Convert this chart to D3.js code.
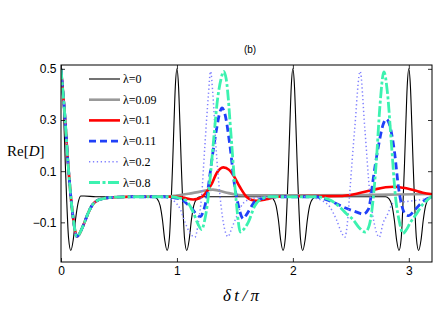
<!DOCTYPE html>
<html><head><meta charset="utf-8">
<script src="https://cdn.jsdelivr.net/npm/d3@7"></script>
<style>
html,body{margin:0;padding:0;background:#fff;}
svg{display:block;}
</style></head>
<body>
<svg id="chart" width="436" height="328"></svg>
<script>
// ---------- data ----------
const xTicks = [0, 1, 2, 3];
const yTicks = [-0.1, 0.1, 0.3, 0.5];
const legendLabels = ["λ=0", "λ=0.09", "λ=0.1", "λ=0.11", "λ=0.2", "λ=0.8"];

// shared initial decay of all λ>0 curves  [t, Re D]
const decayHead = [[0,0.5],[0.016,0.415],[0.032,0.325],[0.046,0.23],[0.06,0.134],[0.075,0.05],[0.089,-0.02],[0.104,-0.08],[0.118,-0.125],[0.135,-0.155],[0.155,-0.148],[0.18,-0.125],[0.204,-0.099],[0.233,-0.065],[0.262,-0.038],[0.29,-0.022],[0.32,-0.013],[0.376,-0.006],[0.45,-0.002],[0.6,0]];

const lam0 = [[0,0.5],[0.014,0.43],[0.026,0.28],[0.037,0.13],[0.048,0],[0.065,-0.16],[0.085,-0.21],[0.105,-0.17],[0.125,-0.09],[0.147,-0.025],[0.17,0.003],[0.2,0.003],[0.3,0],
 [0.8,0],[0.83,-0.008],[0.855,-0.035],[0.875,-0.09],[0.895,-0.17],[0.915,-0.21],[0.935,-0.16],[0.952,0],[0.963,0.13],[0.974,0.28],[0.986,0.43],[1,0.5],[1.014,0.43],[1.026,0.28],[1.037,0.13],[1.048,0],[1.065,-0.16],[1.085,-0.21],[1.105,-0.17],[1.125,-0.09],[1.145,-0.035],[1.17,-0.008],[1.2,0],
 [1.8,0],[1.83,-0.008],[1.855,-0.035],[1.875,-0.09],[1.895,-0.17],[1.915,-0.21],[1.935,-0.16],[1.952,0],[1.963,0.13],[1.974,0.28],[1.986,0.43],[2,0.5],[2.014,0.43],[2.026,0.28],[2.037,0.13],[2.048,0],[2.065,-0.16],[2.085,-0.21],[2.105,-0.17],[2.125,-0.09],[2.145,-0.035],[2.17,-0.008],[2.2,0],
 [2.8,0],[2.83,-0.008],[2.855,-0.035],[2.875,-0.09],[2.895,-0.17],[2.915,-0.21],[2.935,-0.16],[2.952,0],[2.963,0.13],[2.974,0.28],[2.986,0.43],[3,0.5],[3.014,0.43],[3.026,0.28],[3.037,0.13],[3.048,0],[3.065,-0.16],[3.085,-0.21],[3.105,-0.17],[3.125,-0.09],[3.145,-0.035],[3.17,-0.008],[3.2,0]];

const lam009 = [[0.9,0],[1.0,0.005],[1.1,0.012],[1.2,0.02],[1.31,0.028],[1.42,0.017],[1.5,0.009],[1.56,0.006],[1.8,0.006],[2.2,0.006],[2.6,0.007],[2.9,0.009],[3.2,0.011]];

const lam01 = [[1.0,0],[1.05,-0.003],[1.14,-0.011],[1.2,-0.005],[1.24,0.01],[1.3,0.05],[1.342,0.092],[1.4,0.115],[1.45,0.105],[1.485,0.085],[1.543,0.038],[1.6,0.0],[1.64,-0.012],[1.686,-0.016],[1.77,-0.01],[1.86,0],[2.0,0.002],[2.4,0.003],[2.55,0.012],[2.69,0.027],[2.8,0.037],[2.87,0.039],[2.95,0.035],[3.04,0.026],[3.12,0.016],[3.2,0.01]];

const lam011 = [[0.9,0],[0.98,-0.004],[1.054,-0.015],[1.1,-0.033],[1.14,-0.052],[1.175,-0.072],[1.2,-0.078],[1.225,-0.06],[1.256,-0.005],[1.28,0.07],[1.3,0.14],[1.342,0.265],[1.37,0.33],[1.39,0.347],[1.41,0.33],[1.457,0.2],[1.5,0.035],[1.53,-0.034],[1.555,-0.075],[1.572,-0.086],[1.6,-0.07],[1.64,-0.04],[1.672,-0.018],[1.744,-0.006],[1.85,0],[2.2,0],[2.26,-0.007],[2.35,-0.022],[2.434,-0.04],[2.55,-0.06],[2.606,-0.068],[2.65,-0.05],[2.67,-0.01],[2.69,0.06],[2.736,0.193],[2.78,0.284],[2.807,0.304],[2.835,0.28],[2.878,0.17],[2.91,0.04],[2.937,-0.03],[2.97,-0.068],[3.0,-0.074],[3.04,-0.058],[3.095,-0.03],[3.15,-0.01],[3.2,0]];

const lam02 = [[0.85,0],[0.92,-0.006],[0.983,-0.02],[1.03,-0.05],[1.07,-0.1],[1.11,-0.14],[1.155,-0.158],[1.185,-0.1],[1.213,0.005],[1.241,0.2],[1.27,0.39],[1.29,0.49],[1.31,0.4],[1.336,0.2],[1.37,0.01],[1.4,-0.1],[1.44,-0.156],[1.475,-0.12],[1.514,-0.078],[1.55,-0.04],[1.6,-0.015],[1.7,-0.003],[1.8,0],[2.1,0],[2.147,-0.002],[2.25,-0.015],[2.319,-0.04],[2.376,-0.09],[2.42,-0.14],[2.448,-0.158],[2.475,-0.08],[2.49,0.012],[2.534,0.27],[2.58,0.49],[2.62,0.27],[2.664,0.012],[2.7,-0.1],[2.745,-0.158],[2.78,-0.1],[2.81,-0.075],[2.865,-0.026],[2.95,-0.02],[3.05,-0.015],[3.15,-0.008],[3.2,-0.005]];

const lam08 = [[0.95,0],[1.0,-0.003],[1.07,-0.012],[1.14,-0.06],[1.18,-0.105],[1.213,-0.128],[1.24,-0.09],[1.265,-0.02],[1.29,0.09],[1.32,0.24],[1.35,0.38],[1.38,0.46],[1.403,0.49],[1.425,0.46],[1.47,0.22],[1.5,0.04],[1.514,-0.03],[1.53,-0.1],[1.545,-0.138],[1.57,-0.13],[1.615,-0.1],[1.672,-0.035],[1.73,-0.008],[1.8,0],[2.2,0],[2.26,-0.003],[2.33,-0.015],[2.405,-0.04],[2.46,-0.065],[2.52,-0.09],[2.57,-0.12],[2.625,-0.138],[2.66,-0.11],[2.69,-0.02],[2.72,0.14],[2.75,0.35],[2.785,0.488],[2.815,0.41],[2.85,0.207],[2.885,0.0],[2.92,-0.1],[2.95,-0.143],[2.98,-0.128],[3.009,-0.104],[3.066,-0.067],[3.12,-0.03],[3.167,-0.01],[3.2,0.003]];

// ---------- layout ----------
const svg = d3.select("#chart");
const x = d3.scaleLinear().domain([0, 3.2]).range([61, 432]);
const y = d3.scaleLinear().domain([-0.255, 0.515]).range([262, 65]);

const series = [
  {label: legendLabels[0], data: lam0, color: "#000000", width: 1.1, dash: null},
  {label: legendLabels[1], data: decayHead.concat(lam009), color: "#999999", width: 2.6, dash: null},
  {label: legendLabels[2], data: decayHead.concat(lam01), color: "#ff0000", width: 2.6, dash: null},
  {label: legendLabels[3], data: decayHead.concat(lam011), color: "#2040f8", width: 2.8, dash: "7,4"},
  {label: legendLabels[4], data: decayHead.concat(lam02), color: "#8080ff", width: 1.5, dash: "1.3,2.6"},
  {label: legendLabels[5], data: decayHead.concat(lam08), color: "#3cf2b0", width: 2.8, dash: "11,2.5,3,2.5"}
];

svg.append("defs").append("clipPath").attr("id", "clip")
  .append("rect").attr("x", 61).attr("y", 64).attr("width", 371).attr("height", 199);

const line = d3.line().x(d => x(d[0])).y(d => y(d[1])).curve(d3.curveMonotoneX);

const g = svg.append("g").attr("clip-path", "url(#clip)");
series.forEach(s => {
  g.append("path").datum(s.data)
    .attr("fill", "none")
    .attr("stroke", s.color)
    .attr("stroke-width", s.width)
    .attr("stroke-dasharray", s.dash)
    .attr("stroke-linejoin", "round")
    .attr("d", line);
});

// ---------- axes ----------
const tickFont = "'Liberation Sans', Arial, sans-serif";
const fmtY = d3.format(".1f");

const axB = svg.append("g").attr("transform", "translate(0,262)")
  .call(d3.axisBottom(x).tickValues(xTicks).tickFormat(d3.format("d")).tickSizeInner(-4).tickSizeOuter(0).tickPadding(4));
const axT = svg.append("g").attr("transform", "translate(0,65)")
  .call(d3.axisTop(x).tickValues(xTicks).tickFormat("").tickSizeInner(-4).tickSizeOuter(0));
const axL = svg.append("g").attr("transform", "translate(61,0)")
  .call(d3.axisLeft(y).tickValues(yTicks).tickFormat(fmtY).tickSizeInner(-4).tickSizeOuter(0).tickPadding(4.5));
const axR = svg.append("g").attr("transform", "translate(432,0)")
  .call(d3.axisRight(y).tickValues(yTicks).tickFormat("").tickSizeInner(-4).tickSizeOuter(0));

[axB, axT, axL, axR].forEach(a => {
  a.select(".domain").remove();
  a.selectAll(".tick line").attr("stroke", "#000").attr("stroke-width", 0.8);
  a.selectAll("text").attr("font-family", tickFont).attr("font-size", 12).attr("fill", "#000");
});
axB.selectAll("text").attr("dy", "0.71em");

svg.append("rect").attr("x", 61).attr("y", 65).attr("width", 371).attr("height", 197)
  .attr("fill", "none").attr("stroke", "#000").attr("stroke-width", 1);

// ---------- labels ----------
const serif = "'Liberation Serif', 'DejaVu Serif', serif";
svg.append("text").attr("x", 250).attr("y", 53).attr("text-anchor", "middle")
  .attr("font-family", tickFont).attr("font-size", 10).text("(b)");

const yl = svg.append("text").attr("x", 7).attr("y", 156)
  .attr("font-family", serif).attr("font-size", 15);
yl.append("tspan").text("Re[");
yl.append("tspan").attr("font-style", "italic").text("D");
yl.append("tspan").text("]");

const xl = svg.append("text").attr("x", 241).attr("y", 301).attr("text-anchor", "middle")
  .attr("font-family", serif).attr("font-size", 17).attr("font-style", "italic");
xl.append("tspan").text("δ\u2009t\u2009/\u2009π");

// ---------- legend ----------
const leg = svg.append("g");
series.forEach((s, i) => {
  const yy = 79 + i * 20.7;
  leg.append("line").attr("x1", 89).attr("x2", 120).attr("y1", yy).attr("y2", yy)
    .attr("stroke", s.color).attr("stroke-width", s.width).attr("stroke-dasharray", s.dash);
  leg.append("text").attr("x", 123).attr("y", yy + 4)
    .attr("font-family", serif).attr("font-size", 12).text(s.label);
});
</script>
</body></html>
